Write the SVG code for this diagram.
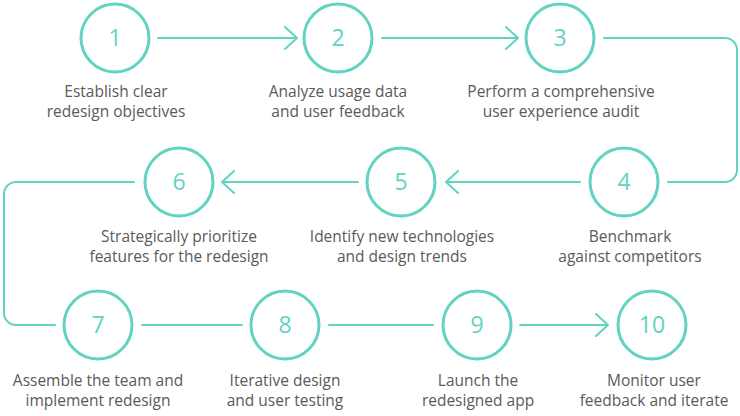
<svg xmlns="http://www.w3.org/2000/svg" width="740" height="416" viewBox="0 0 740 416">
<style>
.c{fill:#fff;stroke:#62d3c1;stroke-width:3}
.n{font-family:"Open Sans","Liberation Sans",sans-serif;font-size:23px;fill:#62d3c1;text-anchor:middle}
.t{font-family:"Open Sans","Liberation Sans",sans-serif;font-size:15.5px;fill:#5a5a5a;text-anchor:middle}
.l{fill:none;stroke:#62d3c1;stroke-width:2;stroke-linecap:round;stroke-linejoin:round}
</style>
<rect width="740" height="416" fill="#fff"/>
<g id="connectors" class="l">
<path d="M158,38 H297 M285,27 L297,38 L285,49"/>
<path d="M382,38 H518 M506,27 L518,38 L506,49"/>
<path d="M604,38 H725 A12,12 0 0 1 737,50 V170 A12,12 0 0 1 725,182 H668"/>
<path d="M580,182 H446 M458,171 L446,182 L458,193"/>
<path d="M358,182 H222 M234,171 L222,182 L234,193"/>
<path d="M134,182 H16 A12,12 0 0 0 4,194 V313 A12,12 0 0 0 16,325 H55"/>
<path d="M142,325 H242"/>
<path d="M329,325 H433"/>
<path d="M520,325 H608 M596,314 L608,325 L596,336"/>
</g>
<g id="n1"><circle class="c" cx="115" cy="38" r="34"/><text class="n" x="115" y="46">1</text><text class="t" x="116" y="97">Establish clear</text><text class="t" x="116" y="117">redesign objectives</text></g>
<g id="n2"><circle class="c" cx="338" cy="38" r="34"/><text class="n" x="338" y="46">2</text><text class="t" x="338" y="97">Analyze usage data</text><text class="t" x="338" y="117">and user feedback</text></g>
<g id="n3"><circle class="c" cx="560" cy="38" r="34"/><text class="n" x="560" y="46">3</text><text class="t" x="561" y="97">Perform a comprehensive</text><text class="t" x="561" y="117">user experience audit</text></g>
<g id="n4"><circle class="c" cx="624" cy="182" r="34"/><text class="n" x="624" y="190">4</text><text class="t" x="630" y="242">Benchmark</text><text class="t" x="630" y="262">against competitors</text></g>
<g id="n5"><circle class="c" cx="401" cy="182" r="34"/><text class="n" x="401" y="190">5</text><text class="t" x="402" y="242">Identify new technologies</text><text class="t" x="402" y="262">and design trends</text></g>
<g id="n6"><circle class="c" cx="179" cy="182" r="34"/><text class="n" x="179" y="190">6</text><text class="t" x="179" y="242">Strategically prioritize</text><text class="t" x="179" y="262">features for the redesign</text></g>
<g id="n7"><circle class="c" cx="98" cy="325" r="34"/><text class="n" x="98" y="333">7</text><text class="t" x="98" y="386">Assemble the team and</text><text class="t" x="98" y="406">implement redesign</text></g>
<g id="n8"><circle class="c" cx="285" cy="325" r="34"/><text class="n" x="285" y="333">8</text><text class="t" x="285" y="386">Iterative design</text><text class="t" x="285" y="406">and user testing</text></g>
<g id="n9"><circle class="c" cx="477" cy="325" r="34"/><text class="n" x="477" y="333">9</text><text class="t" x="478" y="386">Launch the</text><text class="t" x="478" y="406">redesigned app</text></g>
<g id="n10"><circle class="c" cx="652" cy="325" r="34"/><text class="n" x="652" y="333">10</text><text class="t" x="654" y="386">Monitor user</text><text class="t" x="654" y="406">feedback and iterate</text></g>
</svg>
